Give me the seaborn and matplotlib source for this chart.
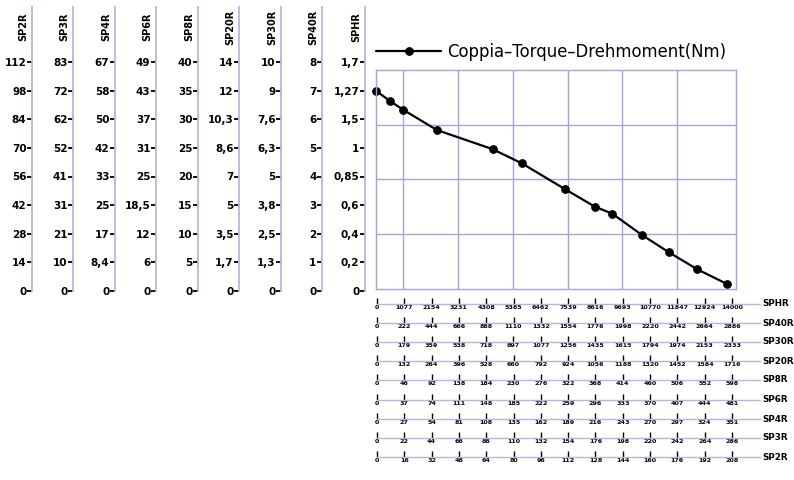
import matplotlib
matplotlib.use("Agg")
import matplotlib.pyplot as plt
import numpy as np
import pandas as pd
import seaborn as sns

sns.set_theme(style="white")
plt.rcParams["font.family"] = ["DejaVu Sans"]
plt.rcParams["text.color"] = "black"
plt.rcParams["xtick.color"] = "black"
plt.rcParams["ytick.color"] = "black"

# Torque curve (speed in SPHR rpm, torque in SP2R units)
speed_rpm = [0, 540, 1077, 2394, 4587, 5730, 7441, 8609, 9295, 10462, 11515, 12631, 13814]
torque_sp2r = [101.4, 96.2, 91.6, 81.3, 71.5, 64.3, 51.0, 42.1, 38.5, 27.6, 18.8, 10.1, 2.5]

# Vertical torque scales (bottom to top)
left_names = ["SP2R", "SP3R", "SP4R", "SP6R", "SP8R", "SP20R", "SP30R", "SP40R", "SPHR"]
left_labels = [
    ["0", "14", "28", "42", "56", "70", "84", "98", "112"],
    ["0", "10", "21", "31", "41", "52", "62", "72", "83"],
    ["0", "8,4", "17", "25", "33", "42", "50", "58", "67"],
    ["0", "6", "12", "18,5", "25", "31", "37", "43", "49"],
    ["0", "5", "10", "15", "20", "25", "30", "35", "40"],
    ["0", "1,7", "3,5", "5", "7", "8,6", "10,3", "12", "14"],
    ["0", "1,3", "2,5", "3,8", "5", "6,3", "7,6", "9", "10"],
    ["0", "1", "2", "3", "4", "5", "6", "7", "8"],
    ["0", "0,2", "0,4", "0,6", "0,85", "1", "1,5", "1,27", "1,7"],
]

# Horizontal speed scales (top to bottom)
bottom_names = ["SPHR", "SP40R", "SP30R", "SP20R", "SP8R", "SP6R", "SP4R", "SP3R", "SP2R"]
bottom_ticks = [
    [0, 1077, 2154, 3231, 4308, 5385, 6462, 7539, 8616, 9693, 10770, 11847, 12924, 14000],
    [0, 222, 444, 666, 888, 1110, 1332, 1554, 1776, 1998, 2220, 2442, 2664, 2886],
    [0, 179, 359, 538, 718, 897, 1077, 1256, 1435, 1615, 1794, 1974, 2153, 2333],
    [0, 132, 264, 396, 528, 660, 792, 924, 1056, 1188, 1320, 1452, 1584, 1716],
    [0, 46, 92, 138, 184, 230, 276, 322, 368, 414, 460, 506, 552, 598],
    [0, 37, 74, 111, 148, 185, 222, 259, 296, 333, 370, 407, 444, 481],
    [0, 27, 54, 81, 108, 135, 162, 189, 216, 243, 270, 297, 324, 351],
    [0, 22, 44, 66, 88, 110, 132, 154, 176, 198, 220, 242, 264, 286],
    [0, 16, 32, 48, 64, 80, 96, 112, 128, 144, 160, 176, 192, 208],
]

W, H = 794, 480
GRID = "#a4a4d6"
AXLINE = "#b6b6dc"


def box(x0, y0, x1, y1):
    # pixel box (top-left origin) -> figure fraction rect
    return [x0 / W, 1 - y1 / H, (x1 - x0) / W, (y1 - y0) / H]


fig = plt.figure(figsize=(W / 100, H / 100), dpi=100)
fig.patch.set_facecolor("white")

# Main chart
ax = fig.add_axes(box(376, 70, 736, 289))
df = pd.DataFrame({"speed": speed_rpm, "torque": torque_sp2r})
sns.lineplot(data=df, x="speed", y="torque", ax=ax, color="black", linewidth=1.6,
             marker="o", markersize=5.5, markeredgecolor="black",
             label="Coppia–Torque–Drehmoment(Nm)", clip_on=False, sort=False)
ax.set_xlim(0, 14158)
ax.set_ylim(0, 112)
ax.set_xticks(bottom_ticks[0][1::2][:6])
ax.set_yticks([28, 56, 84])
ax.grid(True, color=GRID, linewidth=1)
ax.tick_params(length=0, labelbottom=False, labelleft=False)
ax.set_xlabel("")
ax.set_ylabel("")
for s in ax.spines.values():
    s.set_color(GRID)
    s.set_linewidth(1)
ax.legend(loc="center left", bbox_to_anchor=(0, 1 + 18 / 219), frameon=False,
          borderpad=0, borderaxespad=0, handlelength=3.95, handletextpad=0.35,
          fontsize=11.9, labelcolor="black")

# Vertical scales on the left
left_x = [32, 73, 115, 156, 198, 239, 281, 322, 365]
for xpos, name, labels in zip(left_x, left_names, left_labels):
    lax = fig.add_axes(box(xpos, 7, xpos + 1, 291))
    lax.set_facecolor("none")
    lax.set_ylim(0, 8 * 284 / 229)
    lax.set_xlim(0, 1)
    lax.set_yticks(np.arange(len(labels)))
    lax.set_yticklabels(labels, fontsize=7.5, fontweight="bold")
    lax.set_xticks([])
    for side in ["top", "right", "bottom"]:
        lax.spines[side].set_visible(False)
    lax.spines["left"].set_color(AXLINE)
    lax.spines["left"].set_linewidth(1.3)
    lax.tick_params(axis="y", left=True, direction="out", length=3.5, width=1.3,
                    color="black", pad=0.5)
    fig.text((xpos - 9) / W, 1 - 27 / H, name, rotation=90, ha="center", va="center",
             fontsize=7, fontweight="bold")

# Horizontal scales below
for i, (name, ticks) in enumerate(zip(bottom_names, bottom_ticks)):
    y = round(304 + 19.1 * i)
    bax = fig.add_axes(box(377, y - 1, 760, y))
    bax.set_facecolor("none")
    bax.set_xlim(0, ticks[-1] * 383 / 355)
    bax.set_ylim(0, 1)
    bax.set_xticks(ticks)
    bax.set_xticklabels([str(t) for t in ticks], fontsize=4.6, fontweight="bold")
    bax.set_yticks([])
    for side in ["top", "right", "left"]:
        bax.spines[side].set_visible(False)
    bax.spines["bottom"].set_color(AXLINE)
    bax.spines["bottom"].set_linewidth(1)
    bax.tick_params(axis="x", bottom=True, direction="in", length=4.5, width=1,
                    color="black", pad=1.0)
    bax.annotate(name, xy=(1, 0), xycoords="axes fraction", xytext=(2, 0),
                 textcoords="offset points", ha="left", va="center",
                 fontsize=6.3, fontweight="bold")

fig.savefig("out.png", dpi=100, facecolor="white")
